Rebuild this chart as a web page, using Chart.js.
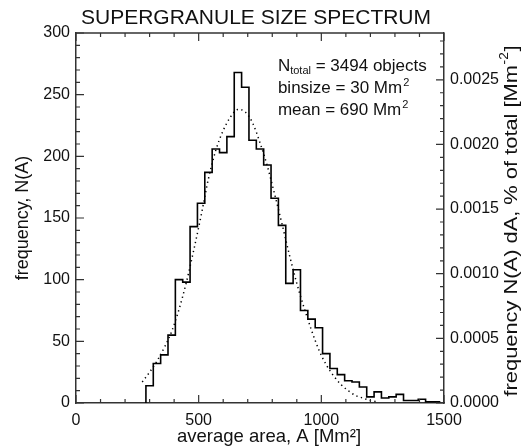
<!DOCTYPE html>
<html><head><meta charset="utf-8">
<script src="https://cdn.jsdelivr.net/npm/chart.js@4/dist/chart.umd.min.js"></script>
<style>html,body{margin:0;padding:0;background:#fff}#wrap{width:530px;height:448px}</style>
</head><body><div id="wrap"><canvas id="c" width="530" height="448"></canvas></div>
<script>
// ---- data ----
const binCenters = [300,330,360,390,420,450,480,510,540,570,600,630,660,690,720,750,780,810,840,870,900,930,960,990,1020,1050,1080,1110,1140,1170,1200,1230,1260,1290,1320,1350,1380,1410,1440,1470];
const counts     = [14,32,39,55,100,98,143,162,187,206,203,216,268,256,213,206,193,166,144,97,108,75,68,61,40,28,23,18,17,13,5,9,4,5,7,2,2,3,1,1];
const fitArea    = [270,300,330,360,390,420,450,480,510,540,570,600,630,660,690,720,750,780,810,840,870,900,930,960,990,1020,1050,1080,1110,1140,1170,1200,1230];
const fitCount   = [17,25,34,45,58,76,98,124,152,182,205,221,232,238,236,227,211,192,169,145,120,97,77,59,43,31,22,15,10,6,4,2,1];
const xTicks  = [0,500,1000,1500];
const yTicks  = [0,50,100,150,200,250,300];
const y2Ticks = [0,0.0005,0.0010,0.0015,0.0020,0.0025];
const xMinorStep = 100, yMinorStep = 10, y2MinorStep = 0.0001;
const nTotal = 3494, binSize = 30, meanArea = 690;
const chartTitle = 'SUPERGRANULE SIZE SPECTRUM';
const xTitle = 'average area, A [Mm²]';
const yTitle = 'frequency, N(A)';
const y2Title = ['frequency N(A) dA, % of total [Mm', '-2', ']'];

const FAM = '"Liberation Sans", Arial, Helvetica, sans-serif';
const halfBin = binSize / 2;
const histPts = [{x: binCenters[0] - halfBin, y: 0}];
binCenters.forEach((c, i) => histPts.push({x: c - halfBin, y: counts[i]}));
histPts.push({x: binCenters[binCenters.length - 1] + halfBin, y: counts[counts.length - 1]});
const fitPts = fitArea.map((a, i) => ({x: a, y: fitCount[i]}));

const AXC = '#333';

const framePlugin = {
  id: 'frame',
  afterDatasetsDraw(chart) {
    const ctx = chart.ctx, a = chart.chartArea;
    const xs = chart.scales.x, ys = chart.scales.y, y2 = chart.scales.y2;
    ctx.save();
    ctx.strokeStyle = AXC; ctx.lineWidth = 1.5;
    ctx.beginPath(); ctx.moveTo(a.left, a.top); ctx.lineTo(a.right, a.top); ctx.stroke();
    ctx.lineWidth = 1.2;
    ctx.beginPath();
    for (let v = xs.min; v <= xs.max + 1e-9; v += xMinorStep) {
      const p = xs.getPixelForValue(v);
      const L = xTicks.includes(Math.round(v)) ? 8 : 4;
      ctx.moveTo(p, a.bottom); ctx.lineTo(p, a.bottom - L);
      ctx.moveTo(p, a.top); ctx.lineTo(p, a.top + L);
    }
    for (let v = ys.min; v <= ys.max + 1e-9; v += yMinorStep) {
      const p = ys.getPixelForValue(v);
      const L = yTicks.includes(Math.round(v)) ? 8 : 4;
      ctx.moveTo(a.left, p); ctx.lineTo(a.left + L, p);
    }
    for (let k = 0; k * y2MinorStep <= y2.max + 1e-12; k++) {
      const p = y2.getPixelForValue(k * y2MinorStep);
      const L = (k % 5 === 0) ? 8 : 4;
      ctx.moveTo(a.right, p); ctx.lineTo(a.right - L, p);
    }
    ctx.stroke();
    ctx.restore();
  },
  afterDraw(chart) {
    const ctx = chart.ctx, a = chart.chartArea;
    const xs = chart.scales.x, ys = chart.scales.y;
    ctx.save();
    ctx.fillStyle = '#111';
    // chart title
    ctx.textAlign = 'center'; ctx.textBaseline = 'middle';
    ctx.font = '21px ' + FAM;
    ctx.fillText(chartTitle, 256, 18);
    // x axis title
    ctx.font = '18.5px ' + FAM;
    ctx.fillText(xTitle, 269, 437);
    // annotation block
    const x0 = xs.getPixelForValue(823);
    const big = 17, small = 11;
    ctx.textBaseline = 'alphabetic'; ctx.textAlign = 'left';
    let yb = ys.getPixelForValue(274) + 6;
    ctx.font = big + 'px ' + FAM;
    ctx.fillText('N', x0, yb);
    let w = ctx.measureText('N').width;
    ctx.font = small + 'px ' + FAM;
    ctx.fillText('total', x0 + w, yb + 3);
    w += ctx.measureText('total').width;
    ctx.font = big + 'px ' + FAM;
    ctx.fillText(' = ' + nTotal + ' objects', x0 + w, yb);
    const supLine = (txt, yv) => {
      const yy = ys.getPixelForValue(yv) + 6;
      ctx.font = big + 'px ' + FAM;
      ctx.fillText(txt, x0, yy);
      const ww = ctx.measureText(txt).width;
      ctx.font = small + 'px ' + FAM;
      ctx.fillText('2', x0 + ww + 1, yy - 7);
    };
    supLine('binsize = ' + binSize + ' Mm', 256.5);
    supLine('mean = ' + meanArea + ' Mm', 238.6);
    // right axis title (reads bottom to top), slightly widened glyphs like the reference
    ctx.translate(512, (a.top + a.bottom) / 2 + 3);
    ctx.rotate(-Math.PI / 2);
    ctx.scale(1.15, 1);
    const [t1, t2, t3] = y2Title;
    ctx.font = '19px ' + FAM;
    const w1 = ctx.measureText(t1).width, w3 = ctx.measureText(t3).width;
    ctx.font = '12px ' + FAM;
    const w2 = ctx.measureText(t2).width;
    const tot = w1 + w2 + w3 + 1;
    ctx.textBaseline = 'middle';
    ctx.font = '19px ' + FAM;
    ctx.fillText(t1, -tot / 2, 0);
    ctx.font = '12px ' + FAM;
    ctx.fillText(t2, -tot / 2 + w1 + 0.5, -7);
    ctx.font = '19px ' + FAM;
    ctx.fillText(t3, -tot / 2 + w1 + w2 + 1, 0);
    ctx.restore();
  }
};

const tickFont = {family: FAM, size: 16};

new Chart(document.getElementById('c').getContext('2d'), {
  type: 'line',
  data: {
    datasets: [
      {data: histPts, stepped: 'before', borderColor: '#000', borderWidth: 1.6, pointRadius: 0, fill: false, xAxisID: 'x', yAxisID: 'y'},
      {data: fitPts, borderColor: '#000', borderWidth: 1.5, borderDash: [1.3, 3.4], pointRadius: 0, fill: false, cubicInterpolationMode: 'monotone', xAxisID: 'x', yAxisID: 'y'}
    ]
  },
  options: {
    responsive: false, animation: false, devicePixelRatio: 1,
    layout: {padding: {top: 33, left: 0, right: 0, bottom: 0}},
    plugins: {legend: {display: false}, tooltip: {enabled: false}, title: {display: false}},
    scales: {
      x: {
        type: 'linear', min: 0, max: 1500, position: 'bottom',
        afterBuildTicks: s => { s.ticks = xTicks.map(v => ({value: v})); },
        afterFit: s => { s.height = 45; },
        grid: {display: false, drawTicks: false},
        border: {display: true, color: AXC, width: 1.5},
        ticks: {font: tickFont, color: '#111', padding: 8, maxRotation: 0, autoSkip: false, callback: v => String(v)}
      },
      y: {
        type: 'linear', min: 0, max: 300, position: 'left',
        afterBuildTicks: s => { s.ticks = yTicks.map(v => ({value: v})); },
        afterFit: s => { s.width = 76; },
        grid: {display: false, drawTicks: false},
        border: {display: true, color: AXC, width: 1.5},
        ticks: {font: tickFont, color: '#111', padding: 6, autoSkip: false, callback: v => String(v)},
        title: {display: true, text: yTitle, color: '#111', font: {family: FAM, size: 18}, padding: {top: 12, bottom: 0}}
      },
      y2: {
        type: 'linear', min: 0, max: 300 / (nTotal * binSize), position: 'right',
        afterBuildTicks: s => { s.ticks = y2Ticks.map(v => ({value: v})); },
        afterFit: s => { s.width = 86; },
        grid: {display: false, drawTicks: false},
        border: {display: true, color: AXC, width: 1.5},
        ticks: {font: tickFont, color: '#111', padding: 6, autoSkip: false, callback: v => v.toFixed(4)}
      }
    }
  },
  plugins: [framePlugin]
});
</script></body></html>
